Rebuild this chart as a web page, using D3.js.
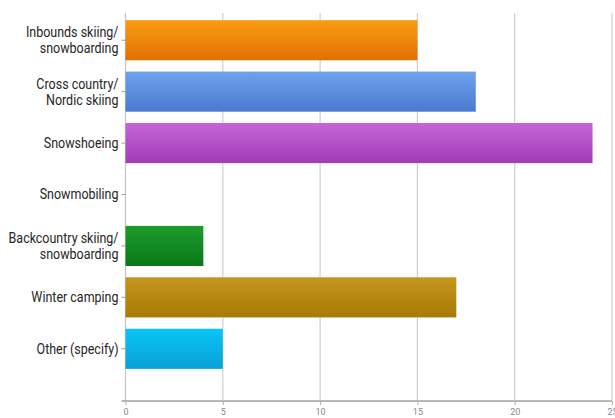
<!DOCTYPE html>
<html>
<head>
<meta charset="utf-8">
<script src="https://cdn.jsdelivr.net/npm/d3@7"></script>
<style>
  html, body { margin: 0; padding: 0; background: #fff; }
  svg { display: block; }
  .cat-label { font-family: "Roboto", "Liberation Sans", sans-serif; font-size: 14.5px; fill: #262626; }
  .tick-label { font-family: "Roboto", "Liberation Sans", sans-serif; font-size: 9px; fill: #8a8a8a; }
</style>
</head>
<body>
<svg id="chart" width="615" height="418"></svg>
<script>
// Winter activities and their response counts
const categories = [
  ["Inbounds skiing/", "snowboarding"],
  ["Cross country/", "Nordic skiing"],
  ["Snowshoeing"],
  ["Snowmobiling"],
  ["Backcountry skiing/", "snowboarding"],
  ["Winter camping"],
  ["Other (specify)"]
];
const values = [15, 18, 24, 0, 4, 17, 5];
const xTicks = [0, 5, 10, 15, 20, 25];
// Top / bottom stops for each bar's vertical gradient
const barTop    = ["#fa9c14", "#6ea2ec", "#c664da", "#1c9c2c", "#c4961c", "#08c6f6"];
const barBottom = ["#e27002", "#4a7ad0", "#a03cb4", "#0a7818", "#a87a08", "#0aa0d6"];
const barColorIndex = [0, 1, 2, null, 3, 4, 5];

const svg = d3.select("#chart");
const keys = categories.map((c, i) => "c" + i);

const x = d3.scaleLinear().domain([0, 25]).range([125.5, 612]);
const y = d3.scaleBand().domain(keys).range([14.5, 374.5]).paddingInner(0.22).paddingOuter(0.11);
const plotTop = 13, axisY = 401;

// Gradients
const defs = svg.append("defs");
barTop.forEach((c, i) => {
  const g = defs.append("linearGradient").attr("id", "g" + i)
    .attr("x1", 0).attr("y1", 0).attr("x2", 0).attr("y2", 1);
  g.append("stop").attr("offset", "0%").attr("stop-color", c);
  g.append("stop").attr("offset", "100%").attr("stop-color", barBottom[i]);
});

// Vertical gridlines
svg.append("g").selectAll("line").data(xTicks.slice(1)).join("line")
  .attr("x1", d => x(d)).attr("x2", d => x(d))
  .attr("y1", plotTop).attr("y2", axisY)
  .attr("stroke", "#cfcfcf").attr("stroke-width", 1.2);

// Left axis line
svg.append("line")
  .attr("x1", x(0)).attr("x2", x(0)).attr("y1", plotTop).attr("y2", axisY)
  .attr("stroke", "#c4c4c4").attr("stroke-width", 1.2);

// Bars
svg.append("g").selectAll("rect").data(values.map((v, i) => ({ v, i })).filter(d => d.v > 0)).join("rect")
  .attr("x", x(0))
  .attr("y", d => y(keys[d.i]))
  .attr("width", d => x(d.v) - x(0))
  .attr("height", y.bandwidth())
  .attr("fill", d => `url(#g${barColorIndex[d.i]})`);

// Category tick marks
const yAxis = d3.axisLeft(y).tickSize(4).tickFormat("");
const yg = svg.append("g").attr("transform", `translate(${x(0)},0)`).call(yAxis);
yg.select(".domain").remove();
yg.selectAll(".tick line").attr("stroke", "#9a9a9a");

// Category labels, set in a horizontally condensed face anchored at the axis
const labelX = x(0) - 7;
const condensedWidth = 110; // width of the longest label line
const labelLayer = svg.append("g");
const labels = labelLayer.selectAll("text").data(categories).join("text")
  .attr("class", "cat-label")
  .attr("text-anchor", "end")
  .attr("x", 0)
  .attr("y", (d, i) => y(keys[i]) + y.bandwidth() / 2);
labels.each(function(lines) {
  const t = d3.select(this);
  const lh = 16;
  const start = -(lines.length - 1) * lh / 2;
  lines.forEach((ln, j) => {
    t.append("tspan").attr("x", 0).attr("dy", j === 0 ? start + 5 : lh).text(ln);
  });
});
let widest = 0;
labels.selectAll("tspan").each(function() { widest = Math.max(widest, this.getComputedTextLength()); });
const sx = widest > 0 ? condensedWidth / widest : 1;
labelLayer.attr("transform", `translate(${labelX},0) scale(${sx},1)`);

// Bottom value axis
const xAxis = d3.axisBottom(x).tickValues(xTicks).tickSize(4).tickFormat(d3.format("d"));
const xg = svg.append("g").attr("transform", `translate(0,${axisY})`).call(xAxis);
xg.select(".domain").attr("stroke", "#b8b8b8").attr("stroke-width", 2).attr("d", `M${x(0) - 4},0H${x(25)}`);
xg.selectAll(".tick line").attr("stroke", "#b0b0b0");
xg.selectAll(".tick text").attr("class", "tick-label").attr("y", 8).attr("fill", null);
</script>
</body>
</html>
